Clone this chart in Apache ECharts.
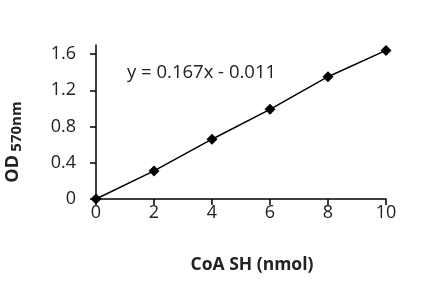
<!DOCTYPE html>
<html><head><meta charset="utf-8">
<script src="https://cdn.jsdelivr.net/npm/echarts@6/dist/echarts.min.js"></script>
<style>html,body{margin:0;padding:0;background:#fff}#c{width:422px;height:295px}</style>
</head><body><div id="c"></div>
<script>
const xValues = [0, 2, 4, 6, 8, 10];
const odValues = [0, 0.31, 0.66, 0.99, 1.35, 1.64];
const yTicks = [0, 0.4, 0.8, 1.2, 1.6];
const xTicks = [0, 2, 4, 6, 8, 10];
const equationText = 'y = 0.167x - 0.011';
const xTitle = 'CoA SH (nmol)';

const chart = echarts.init(document.getElementById('c'), null, {renderer: 'canvas'});
const font = '"Open Sans", sans-serif';
chart.setOption({
  animation: false,
  grid: {left: 96, right: 36, top: 45, bottom: 96},
  xAxis: {
    type: 'value', min: 0, max: 10, interval: 2,
    axisLine: {show: true, lineStyle: {color: '#000', width: 1.5}},
    axisTick: {show: true, length: 6, lineStyle: {color: '#000', width: 1.5}},
    axisLabel: {color: '#222', fontSize: 18, fontFamily: font, margin: 5},
    splitLine: {show: false}
  },
  yAxis: {
    type: 'value', min: 0, max: 1.7,
    axisLine: {show: true, lineStyle: {color: '#000', width: 1.5}},
    axisTick: {show: true, length: 6, customValues: yTicks, lineStyle: {color: '#000', width: 1.5}},
    axisLabel: {color: '#222', fontSize: 18, fontFamily: font, margin: 20, customValues: yTicks,
      formatter: v => String(+v.toFixed(1))},
    splitLine: {show: false}
  },
  series: [{
    type: 'line',
    data: xValues.map((x, i) => [x, odValues[i]]),
    symbol: 'diamond', symbolSize: 11,
    itemStyle: {color: '#000'},
    lineStyle: {color: '#000', width: 1.5},
    clip: false
  }],
  graphic: [
    {type: 'text', x: 127, y: 73, style: {text: equationText, fontSize: 18.5, fontFamily: font, fill: '#222', verticalAlign: 'middle'}},
    {type: 'text', x: 252, y: 265, style: {text: xTitle, fontSize: 17.5, fontWeight: 'bold', fontFamily: font, fill: '#222', align: 'center', verticalAlign: 'middle'}},
    {type: 'text', x: 14, y: 142, rotation: Math.PI / 2, style: {
      text: '{a|OD} {b|570nm}', align: 'center', verticalAlign: 'middle',
      rich: {
        a: {fontSize: 18, fontWeight: 'bold', fontFamily: font, fill: '#222', verticalAlign: 'top'},
        b: {fontSize: 15, fontWeight: 'bold', fontFamily: font, fill: '#222', verticalAlign: 'bottom', padding: [6, 0, 0, 0]}
      }}}
  ]
});
</script></body></html>
